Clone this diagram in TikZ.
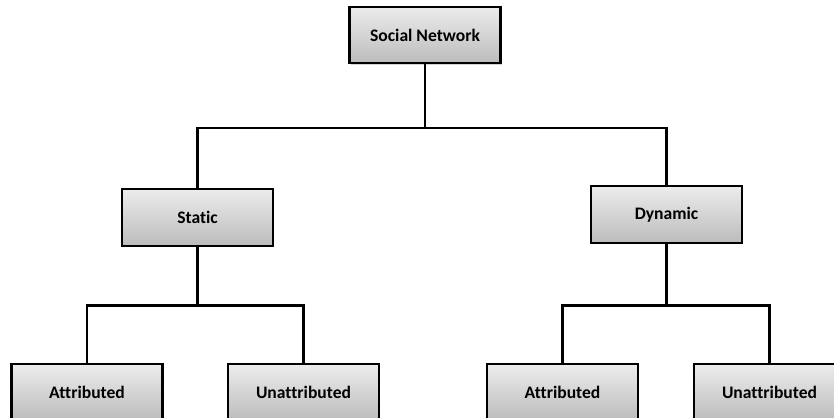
\documentclass[tikz,border=0pt]{standalone}
\usepackage{fontspec}
\setmainfont[Ligatures=NoCommon]{Carlito}
\usetikzlibrary{shadows}
\definecolor{boxtop}{RGB}{236,236,236}
\definecolor{boxbottom}{RGB}{188,188,188}

\tikzset{
    catbox/.style={draw=black, line width=1.8pt, top color=boxtop, bottom color=boxbottom,
        minimum width=4.53cm, minimum height=1.69cm, inner sep=0pt,
        font=\fontsize{15}{18}\selectfont\bfseries,
        drop shadow={shadow xshift=1.2pt, shadow yshift=-1.2pt, opacity=0.35, fill=gray}},
    link/.style={line width=1.8pt, black}
}

\begin{document}
\begin{tikzpicture}[x=0.03cm, y=-0.03cm]
    % Page frame
    \useasboundingbox (0,0) rectangle (834,418);
    \clip (0,0) rectangle (834,418);

    % Root
    \node[catbox] (social) at (425,35) {Social Network};

    % Second level
    \node[catbox] (static) at (197.5,217.5) {Static};
    \node[catbox] (dynamic) at (666.5,214.5) {Dynamic};

    % Third level
    \node[catbox] (statattr) at (87,392.5) {Attributed};
    \node[catbox] (statunattr) at (303.5,392.5) {Unattributed};
    \node[catbox] (dynattr) at (562.5,392.5) {Attributed};
    \node[catbox] (dynunattr) at (769.5,392.5) {Unattributed};

    % Junction points of the branches
    \coordinate (rootjoin) at (425,128);
    \coordinate (statjoin) at (197.5,305.5);
    \coordinate (dynjoin) at (666.5,305.5);

    % Connectors
    \draw[link] (social.south) -- (rootjoin);
    \draw[link] (static.north) |- (rootjoin) -| (dynamic.north);

    \draw[link] (static.south) -- (statjoin);
    \draw[link] (statattr.north) |- (statjoin) -| (statunattr.north);

    \draw[link] (dynamic.south) -- (dynjoin);
    \draw[link] (dynattr.north) |- (dynjoin) -| (dynunattr.north);
\end{tikzpicture}
\end{document}
